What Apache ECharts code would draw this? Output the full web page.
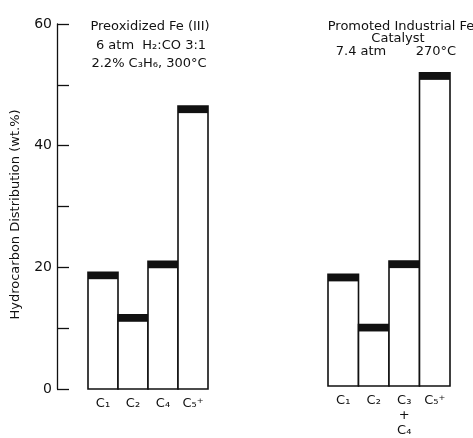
<!DOCTYPE html>
<html>
<head>
<meta charset="utf-8">
<script src="https://cdn.jsdelivr.net/npm/echarts@6/dist/echarts.min.js"></script>
<style>
  html, body { margin: 0; padding: 0; background: #fff; }
  #chart { width: 473px; height: 438px; }
</style>
</head>
<body>
<div id="chart"></div>
<script>
// Hydrocarbon product distribution (wt.%) for two iron catalysts
const leftCategories = ['C₁', 'C₂', 'C₄', 'C₅⁺'];
const leftValues = [19.2, 12.2, 21.0, 46.5];

const rightCategories = ['C₁', 'C₂', 'C₃\n+\nC₄', 'C₅⁺'];
const rightValues = [18.5, 10.2, 20.7, 51.9];

const yTickLabels = ['0', '20', '40', '60'];

const FONT = 'DejaVu Sans';
const INK = '#111';

// Open bar with a solid black band along its top edge
function renderBar(params, api) {
  const idx = api.value(0);
  const val = api.value(1);
  const base = api.coord([idx, 0]);
  const top = api.coord([idx, val]);
  const w = api.size([1, 0])[0];
  const x = base[0] - w / 2;
  const band = 7;
  return {
    type: 'group',
    children: [
      {
        type: 'rect',
        shape: { x: x, y: top[1], width: w, height: base[1] - top[1] },
        style: { fill: '#fff', stroke: INK, lineWidth: 1.6 }
      },
      {
        type: 'rect',
        shape: { x: x, y: top[1], width: w, height: band },
        style: { fill: INK }
      }
    ]
  };
}

const chart = echarts.init(document.getElementById('chart'));

const titleStyle = { fontFamily: FONT, fontSize: 13, fontWeight: 'normal', color: INK };

chart.setOption({
  animation: false,
  backgroundColor: '#fff',
  title: [
    { text: 'Preoxidized Fe (III)', left: 145, top: 15, textAlign: 'center', textStyle: titleStyle },
    { text: '6 atm  H₂:CO 3:1', left: 146, top: 34, textAlign: 'center', textStyle: titleStyle },
    { text: '2.2% C₃H₆, 300°C', left: 144, top: 52, textAlign: 'center', textStyle: titleStyle },
    { text: 'Promoted Industrial Fe', left: 396, top: 15, textAlign: 'center', textStyle: titleStyle },
    { text: 'Catalyst', left: 393, top: 27, textAlign: 'center', textStyle: titleStyle },
    { text: '7.4 atm', left: 356, top: 40, textAlign: 'center', textStyle: titleStyle },
    { text: '270°C', left: 431, top: 40, textAlign: 'center', textStyle: titleStyle }
  ],
  grid: [
    { left: 88, width: 120, top: 24, height: 365 },
    { left: 328, width: 122, top: 24, height: 363 }
  ],
  xAxis: [
    {
      type: 'category', gridIndex: 0, data: leftCategories,
      axisLine: { show: false }, axisTick: { show: false },
      axisLabel: { fontFamily: FONT, fontSize: 13, color: INK, margin: 7, lineHeight: 15 }
    },
    {
      type: 'category', gridIndex: 1, data: rightCategories,
      axisLine: { show: false }, axisTick: { show: false },
      axisLabel: { fontFamily: FONT, fontSize: 13, color: INK, margin: 7, lineHeight: 15 }
    }
  ],
  yAxis: [
    {
      type: 'value', gridIndex: 0, min: 0, max: 60, interval: 10,
      offset: 31,
      name: 'Hydrocarbon Distribution (wt.%)',
      nameLocation: 'middle', nameRotate: 90, nameGap: 35,
      nameTextStyle: { fontFamily: FONT, fontSize: 13, color: INK, padding: [0, 16, 0, 0] },
      axisLine: { show: true, lineStyle: { color: INK, width: 1.3 } },
      axisTick: { show: true, inside: true, length: 12, lineStyle: { color: INK, width: 1.3 } },
      axisLabel: {
        fontFamily: FONT, fontSize: 14, color: INK, margin: 5,
        formatter: function (v) {
          const s = String(v);
          return yTickLabels.indexOf(s) >= 0 ? s : '';
        }
      },
      splitLine: { show: false }
    },
    {
      type: 'value', gridIndex: 1, min: 0, max: 60, interval: 10,
      show: false, splitLine: { show: false }
    }
  ],
  series: [
    {
      type: 'custom', xAxisIndex: 0, yAxisIndex: 0,
      renderItem: renderBar,
      data: leftValues.map((v, i) => [i, v])
    },
    {
      type: 'custom', xAxisIndex: 1, yAxisIndex: 1,
      renderItem: renderBar,
      data: rightValues.map((v, i) => [i, v])
    }
  ]
});
</script>
</body>
</html>
